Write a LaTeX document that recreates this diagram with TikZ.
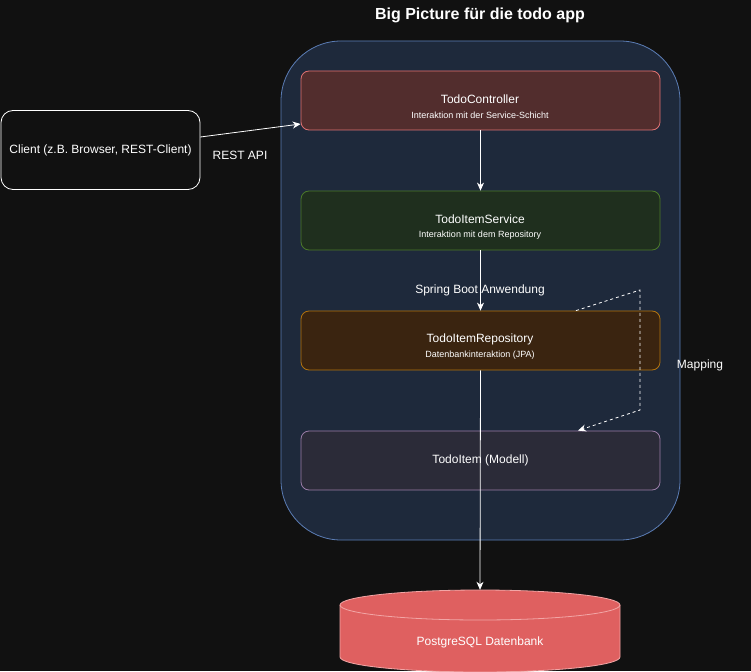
\documentclass[tikz,border=0pt]{standalone}
\usepackage{fontspec}
\setmainfont{Liberation Sans}
\usetikzlibrary{arrows.meta}
\definecolor{bgc}{HTML}{111111}
\definecolor{contfill}{HTML}{1E293B}
\definecolor{contline}{HTML}{5B7DB5}
\definecolor{ctrlfill}{HTML}{522D2D}
\definecolor{ctrlline}{HTML}{E07272}
\definecolor{svcfill}{HTML}{1F2F1E}
\definecolor{svcline}{HTML}{4C7A2A}
\definecolor{repofill}{HTML}{3A2410}
\definecolor{repoline}{HTML}{B3740F}
\definecolor{itemfill}{HTML}{2B2B38}
\definecolor{itemline}{HTML}{9B7DA8}
\definecolor{dbfill}{HTML}{DF6060}
\definecolor{dbline}{HTML}{F2A6A6}
\tikzset{
  layer/.style={draw, line width=0.8pt, rounded corners=8pt, minimum width=359pt, minimum height=59pt, inner sep=0pt, align=center, text=white, font=\fontsize{12}{14}\selectfont},
  conn/.style={draw=white, line width=0.8pt, -{Stealth[length=8pt,width=7pt,inset=2.5pt]}},
  lbl/.style={text=white, font=\fontsize{12}{14}\selectfont, inner sep=0pt},
  sublbl/.style={text=white, font=\fontsize{9}{11}\selectfont, inner sep=0pt}
}
\begin{document}
\begin{tikzpicture}[x=1pt,y=-1pt]
\fill[bgc] (0,0) rectangle (751,671);
\useasboundingbox (0,0) rectangle (751,671);
\node[lbl, font=\fontsize{16}{18}\selectfont\bfseries] (title) at (480,15) {Big Picture für die todo app};
\node[draw=contline, fill=contfill, line width=0.8pt, rounded corners=60pt, minimum width=399pt, minimum height=499pt, inner sep=0pt] (cont) at (480.5,290.5) {};
\node[layer, draw=ctrlline, fill=ctrlfill] (ctrl) at (480.5,100.5) {};
\node[lbl] (ctrlt) at (480,99) {TodoController};
\node[sublbl] (ctrls) at (480,115) {Interaktion mit der Service-Schicht};
\node[layer, draw=svcline, fill=svcfill] (svc) at (480.5,220.5) {};
\node[lbl] (svct) at (480,219) {TodoItemService};
\node[sublbl] (svcs) at (480,235) {Interaktion mit dem Repository};
\node[layer, draw=repoline, fill=repofill] (repo) at (480.5,340.5) {};
\node[lbl] (repot) at (480,339) {TodoItemRepository};
\node[sublbl] (repos) at (480,355) {Datenbankinteraktion (JPA)};
\node[layer, draw=itemline, fill=itemfill] (item) at (480.5,460.5) {TodoItem (Modell)};
\node[draw=white, fill=bgc, line width=0.8pt, rounded corners=12pt, minimum width=199pt, minimum height=79pt, inner sep=0pt, text=white, font=\fontsize{12}{14}\selectfont] (client) at (100.5,150) {Client (z.B. Browser, REST-Client)};
% database cylinder
\node[minimum width=280pt, minimum height=80pt, inner sep=0pt] (db) at (480,630) {};
\fill[dbfill] (340,605) -- (340,657) arc[start angle=180, end angle=0, x radius=140, y radius=15] -- (620,605) -- cycle;
\fill[dbfill] (480,605) ellipse[x radius=140, y radius=15];
\draw[dbline, line width=0.8pt] (480,605) ellipse[x radius=140, y radius=15];
\draw[dbline, line width=0.8pt] (340,605) -- (340,657) arc[start angle=180, end angle=0, x radius=140, y radius=15] -- (620,605);
\node[lbl] (dblabel) at (480,642) {PostgreSQL Datenbank};
% connectors
\draw[conn] (client.east |- 0,137) -- (ctrl.west |- 0,124);
\node[lbl] (rest) at (240,155) {REST API};
\draw[conn] (ctrl.south) -- (svc.north);
\draw[conn] (svc.south) -- (repo.north);
\draw[conn] (repo.south) -- (db.north);
\node[lbl] (spring) at (480,290) {Spring Boot Anwendung};
\coordinate (m1) at (640,290);
\coordinate (m2) at (640,410);
\draw[conn, dash pattern=on 3pt off 3pt] (repo.north -| 576,0) -- (m1) -- (m2) -- (item.north -| 578,0);
\node[lbl] (mapping) at (700,365) {Mapping};
\end{tikzpicture}
\end{document}
